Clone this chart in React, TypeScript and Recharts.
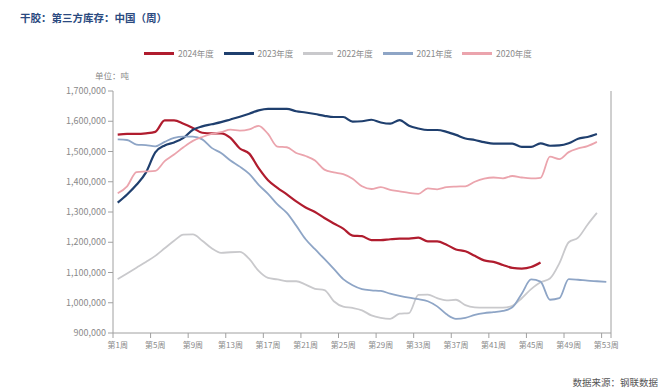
import React from 'react';
import { LineChart, Line, XAxis, YAxis } from 'recharts';

const WEEKS = Array.from({ length: 53 }, (_, i) => `第${i + 1}周`);
const Y_TICKS = [900000, 1000000, 1100000, 1200000, 1300000, 1400000, 1500000, 1600000, 1700000];

const S2024 = [1556000, 1558000, 1558000, 1560000, 1565000, 1603000, 1603000, 1592000, 1578000, 1562000, 1560000, 1560000, 1545000, 1510000, 1493000, 1445000, 1405000, 1380000, 1358000, 1335000, 1315000, 1300000, 1280000, 1262000, 1245000, 1222000, 1220000, 1207000, 1207000, 1210000, 1212000, 1212000, 1215000, 1203000, 1203000, 1192000, 1176000, 1170000, 1155000, 1140000, 1135000, 1125000, 1115000, 1113000, 1118000, 1133000];
const S2023 = [1331000, 1358000, 1390000, 1430000, 1497000, 1520000, 1530000, 1545000, 1572000, 1583000, 1590000, 1597000, 1606000, 1615000, 1625000, 1636000, 1641000, 1641000, 1641000, 1633000, 1629000, 1624000, 1618000, 1614000, 1614000, 1599000, 1600000, 1605000, 1596000, 1592000, 1604000, 1585000, 1576000, 1571000, 1571000, 1565000, 1555000, 1543000, 1538000, 1531000, 1526000, 1526000, 1526000, 1515000, 1515000, 1527000, 1519000, 1520000, 1527000, 1542000, 1548000, 1558000];
const S2022 = [1078000, 1097000, 1116000, 1135000, 1155000, 1180000, 1205000, 1225000, 1226000, 1205000, 1180000, 1165000, 1167000, 1168000, 1145000, 1105000, 1082000, 1077000, 1071000, 1071000, 1060000, 1046000, 1042000, 1005000, 987000, 983000, 975000, 958000, 950000, 947000, 964000, 966000, 1026000, 1027000, 1015000, 1008000, 1010000, 992000, 985000, 984000, 984000, 984000, 990000, 1015000, 1045000, 1068000, 1080000, 1130000, 1200000, 1215000, 1258000, 1297000];
const S2021 = [1540000, 1538000, 1523000, 1521000, 1517000, 1532000, 1545000, 1549000, 1549000, 1540000, 1512000, 1495000, 1470000, 1450000, 1426000, 1390000, 1360000, 1325000, 1297000, 1255000, 1210000, 1177000, 1145000, 1112000, 1078000, 1058000, 1045000, 1041000, 1039000, 1030000, 1023000, 1017000, 1012000, 1005000, 988000, 962000, 947000, 950000, 960000, 966000, 969000, 973000, 985000, 1030000, 1077000, 1070000, 1010000, 1015000, 1078000, 1076000, 1073000, 1071000, 1069000];
const S2020 = [1362000, 1385000, 1432000, 1434000, 1436000, 1468000, 1490000, 1514000, 1535000, 1548000, 1558000, 1564000, 1572000, 1569000, 1573000, 1585000, 1558000, 1516000, 1514000, 1495000, 1485000, 1470000, 1440000, 1431000, 1425000, 1410000, 1385000, 1376000, 1382000, 1373000, 1368000, 1363000, 1360000, 1378000, 1375000, 1382000, 1384000, 1385000, 1400000, 1410000, 1414000, 1411000, 1419000, 1414000, 1411000, 1413000, 1483000, 1475000, 1498000, 1510000, 1518000, 1532000];

const SERIES = [
  { key: 'y2024', name: '2024年度', color: '#b01c2e', width: 2.2, values: S2024 },
  { key: 'y2023', name: '2023年度', color: '#1f3f6e', width: 2.2, values: S2023 },
  { key: 'y2022', name: '2022年度', color: '#c9c9cc', width: 1.8, values: S2022 },
  { key: 'y2021', name: '2021年度', color: '#8ea5c6', width: 1.8, values: S2021 },
  { key: 'y2020', name: '2020年度', color: '#eba4ad', width: 1.8, values: S2020 },
];

const data = WEEKS.map((w, i) => {
  const row: any = { week: w };
  SERIES.forEach((s) => {
    row[s.key] = i < s.values.length ? s.values[i] : null;
  });
  return row;
});

const FONT = '"Noto Sans CJK SC", "Noto Sans", sans-serif';
const AXIS_COLOR = '#a0a0a0';
const TEXT_COLOR = '#8a8a8a';
const W = 663;
const H = 389;
const MARGIN = { top: 91, right: 51, bottom: 26, left: 0 };
const Y_AXIS_W = 113;
const PLOT_W = W - MARGIN.right - 1 - Y_AXIS_W;
const BAND = PLOT_W / WEEKS.length;
const TICK_SIZE = 5;
const TICK_MARGIN = 3;

const XTick = (props: any) => {
  const { x, y, payload } = props;
  const y1 = y - TICK_MARGIN - TICK_SIZE;
  const y2 = y - TICK_MARGIN;
  const isLast = payload.value === WEEKS[WEEKS.length - 1];
  return (
    <g>
      <line x1={x - BAND / 2} x2={x - BAND / 2} y1={y1} y2={y2} stroke={AXIS_COLOR} strokeWidth={1} />
      {isLast && <line x1={x + BAND / 2} x2={x + BAND / 2} y1={y1} y2={y2} stroke={AXIS_COLOR} strokeWidth={1} />}
      <text x={x} y={y} dy="0.85em" textAnchor="middle" fill={TEXT_COLOR} fontSize={8} fontFamily={FONT}>
        {payload.value}
      </text>
    </g>
  );
};

const fmt = (v: number) => v.toLocaleString('en-US');

export default function App() {
  return (
    <div style={{ position: 'absolute', left: 0, top: 0, width: W, height: H, background: '#fff', fontFamily: FONT }}>
      <div style={{ position: 'absolute', left: 20, top: 12, fontSize: 10.5, lineHeight: '12px', fontWeight: 700, color: '#2b4a80', whiteSpace: 'nowrap' }}>
        干胶：第三方库存：中国（周）
      </div>
      <div style={{ position: 'absolute', left: 144, top: 46, display: 'flex', whiteSpace: 'nowrap' }}>
        {SERIES.map((s) => (
          <div key={s.key} style={{ width: 79.5, display: 'flex', alignItems: 'center', height: 14 }}>
            <div style={{ width: 30, height: 3, background: s.color, marginRight: 4 }} />
            <span style={{ fontSize: 8.5, color: TEXT_COLOR, lineHeight: '14px' }}>{s.name}</span>
          </div>
        ))}
      </div>
      <div style={{ position: 'absolute', left: 95, top: 69, fontSize: 8.5, lineHeight: '12px', color: TEXT_COLOR, whiteSpace: 'nowrap' }}>
        单位：吨
      </div>
      <div style={{ position: 'absolute', right: 5, top: 375, fontSize: 9.5, lineHeight: '14px', color: '#555', whiteSpace: 'nowrap' }}>
        数据来源：钢联数据
      </div>
      <div style={{ position: 'absolute', left: 0, top: 0 }}>
        <LineChart width={W} height={H} data={data} margin={MARGIN}>
          <XAxis
            dataKey="week"
            scale="band"
            interval={3}
            height={30}
            tickLine={false}
            tickSize={TICK_SIZE}
            tickMargin={TICK_MARGIN}
            axisLine={{ stroke: AXIS_COLOR }}
            tick={<XTick />}
          />
          <YAxis
            yAxisId="left"
            width={Y_AXIS_W}
            domain={[900000, 1700000]}
            ticks={Y_TICKS}
            tickFormatter={fmt}
            tickSize={5}
            tickMargin={2}
            axisLine={{ stroke: AXIS_COLOR }}
            tickLine={{ stroke: AXIS_COLOR }}
            tick={{ fill: TEXT_COLOR, fontSize: 9, fontFamily: FONT }}
            allowDataOverflow
          />
          <YAxis
            yAxisId="right"
            orientation="right"
            width={1}
            domain={[0, 1]}
            tick={false}
            tickLine={false}
            axisLine={{ stroke: AXIS_COLOR }}
          />
          {SERIES.map((s) => (
            <Line
              key={s.key}
              yAxisId="left"
              type="monotone"
              dataKey={s.key}
              name={s.name}
              stroke={s.color}
              strokeWidth={s.width}
              dot={false}
              activeDot={false}
              isAnimationActive={false}
            />
          ))}
        </LineChart>
      </div>
    </div>
  );
}
